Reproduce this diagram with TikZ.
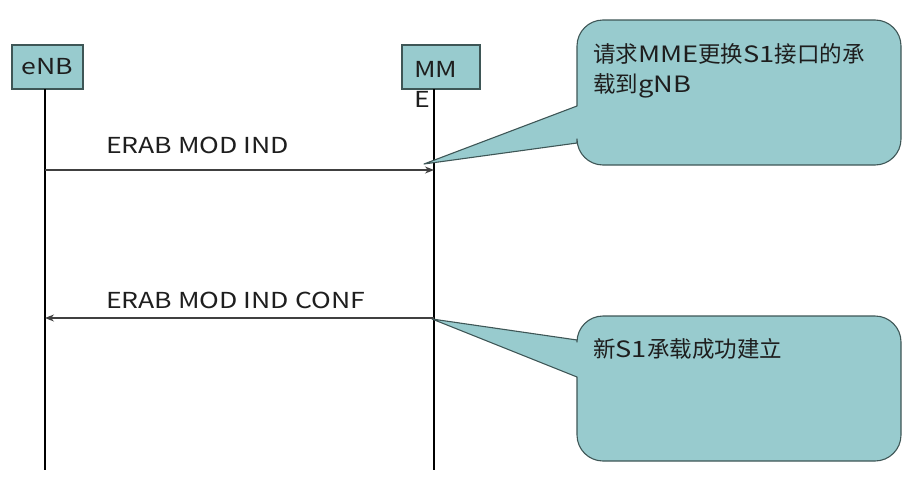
\documentclass[tikz,border=0pt]{standalone}
\usepackage{fontspec}
\setmainfont{Noto Sans CJK SC}
\newfontfamily\latw[FakeStretch=1.21]{Noto Sans CJK SC}
\usetikzlibrary{arrows.meta}
\definecolor{boxfill}{HTML}{98CBCE}
\definecolor{boxline}{HTML}{3E5656}
\definecolor{txt}{HTML}{1E1E1E}
\tikzset{
  actor/.style={draw=boxline, line width=1.1pt, fill=boxfill, inner sep=0pt},
  actortext/.style={text=txt, inner sep=0pt, align=left, font=\latw\fontsize{22}{30}\selectfont},
  lifeline/.style={draw=black, line width=1.2pt},
  msg/.style={draw=black!75, line width=1.2pt, -{Stealth[length=9pt,width=7pt]}},
  msglabel/.style={anchor=base west, text=txt, font=\latw\fontsize{22}{26}\selectfont, inner sep=0pt},
  callout/.style={draw=boxline, line width=1.1pt, fill=boxfill, line join=round},
  callouttext/.style={anchor=north west, text=txt, align=left, inner sep=0pt, font=\fontsize{22.5}{30}\selectfont},
}
\begin{document}
\begin{tikzpicture}[x=1pt,y=-1pt]
\useasboundingbox (0,0) rectangle (924,490);
% actors
\node[actor, minimum width=71pt, minimum height=44pt] (enb) at (47.5,67) {};
\node[actortext] (enbtext) at (47.5,67) {eNB};
\node[actor, minimum width=78pt, minimum height=44pt] (mme) at (441,67) {};
\node[actortext, anchor=base west] (mmetext) at (414,107) {MM\\E};
% lifeline ends
\coordinate (enbtop) at (45,89);
\coordinate (enbbot) at (45,470);
\coordinate (mmetop) at (434,89);
\coordinate (mmebot) at (434,470);
\draw[lifeline] (enbtop) -- (enbbot);
\draw[lifeline] (mmetop) -- (mmebot);
% messages
\coordinate (m1s) at (45,170);
\coordinate (m1e) at (434,170);
\coordinate (m2s) at (434,318);
\coordinate (m2e) at (45,318);
\draw[msg] (m1s) -- (m1e);
\draw[msg] (m2s) -- (m2e);
\node[msglabel] (l1) at (106,153) {ERAB MOD IND};
\node[msglabel] (l2) at (106,308) {ERAB MOD IND CONF};
% callout 1
\coordinate (tip1) at (424,164);
\draw[callout] (tip1) -- (577,106) [rounded corners=26pt] -- (577,20) -- (901,20) -- (901,165) -- (577,165) [sharp corners] -- (577,143) -- cycle;
\node[callouttext] (c1) at (593,43) {请求{\latw MME}更换{\latw S1}接口的承\\载到{\latw gNB}};
% callout 2
\coordinate (tip2) at (432,319);
\draw[callout] (tip2) -- (577,340) [rounded corners=26pt] -- (577,316) -- (901,316) -- (901,461) -- (577,461) [sharp corners] -- (577,377) -- cycle;
\node[callouttext] (c2) at (593,338) {新{\latw S1}承载成功建立};
\end{tikzpicture}
\end{document}
